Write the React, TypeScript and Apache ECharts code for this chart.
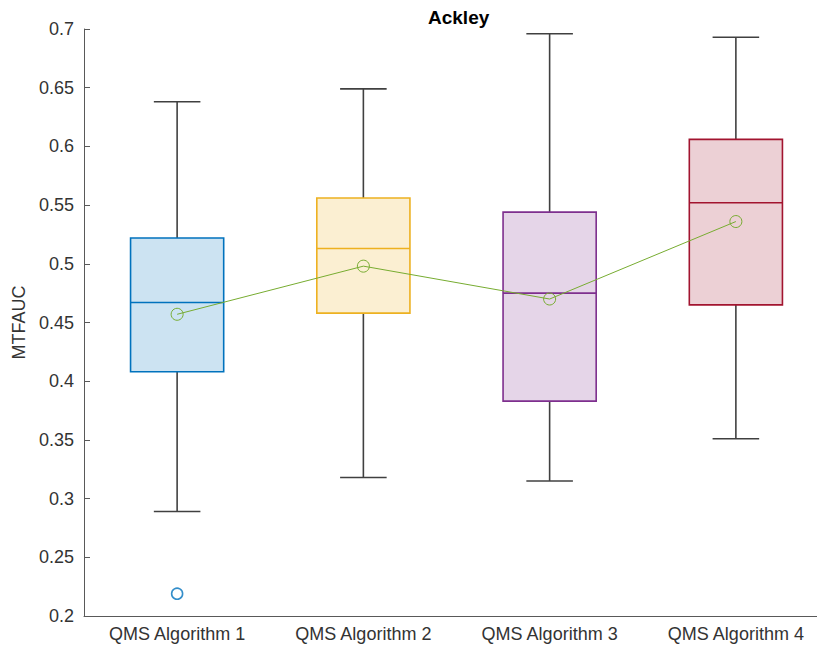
import React, { useEffect, useRef } from "react";
import * as echarts from "echarts";

// Benchmark: Ackley, metric MTFAUC
const categories = ["QMS Algorithm 1", "QMS Algorithm 2", "QMS Algorithm 3", "QMS Algorithm 4"];
// [lower whisker, Q1, median, Q3, upper whisker]
const boxStats = [
  [0.289, 0.408, 0.467, 0.522, 0.638],
  [0.318, 0.458, 0.513, 0.556, 0.649],
  [0.315, 0.383, 0.475, 0.544, 0.696],
  [0.351, 0.465, 0.552, 0.606, 0.693],
];
const means = [0.457, 0.498, 0.470, 0.536];
// [category index, value]
const outliers = [[0, 0.219]];
const yTicks = { min: 0.2, max: 0.7, interval: 0.05 };

const edgeColors = ["#0072BD", "#EDB120", "#7E2F8E", "#A2142F"];
const fillColors = [
  "rgba(0,114,189,0.2)",
  "rgba(237,177,32,0.2)",
  "rgba(126,47,142,0.2)",
  "rgba(162,20,47,0.2)",
];
const FONT = "'Liberation Sans', Arial, Helvetica, sans-serif";

export default function App() {
  const ref = useRef<HTMLDivElement | null>(null);

  useEffect(() => {
    document.body.style.margin = "0";
    document.body.style.overflow = "hidden";
    if (!ref.current) return;
    const chart = echarts.init(ref.current, undefined, { renderer: "svg" });

    const renderBox = (params: any, api: any) => {
      const idx = api.value(0);
      const lo = api.coord([idx, api.value(1)]);
      const q1 = api.coord([idx, api.value(2)]);
      const med = api.coord([idx, api.value(3)]);
      const q3 = api.coord([idx, api.value(4)]);
      const hi = api.coord([idx, api.value(5)]);
      const band = api.size([1, 0])[0];
      const boxW = band * 0.5;
      const capW = boxW * 0.5;
      const cx = lo[0];
      const whisker = { stroke: "#404040", lineWidth: 1.6 };
      const edge = edgeColors[idx];
      return {
        type: "group",
        children: [
          { type: "line", shape: { x1: cx, y1: q3[1], x2: cx, y2: hi[1] }, style: whisker },
          { type: "line", shape: { x1: cx, y1: q1[1], x2: cx, y2: lo[1] }, style: whisker },
          { type: "line", shape: { x1: cx - capW / 2, y1: hi[1], x2: cx + capW / 2, y2: hi[1] }, style: whisker },
          { type: "line", shape: { x1: cx - capW / 2, y1: lo[1], x2: cx + capW / 2, y2: lo[1] }, style: whisker },
          {
            type: "rect",
            shape: { x: cx - boxW / 2, y: q3[1], width: boxW, height: q1[1] - q3[1] },
            style: { fill: fillColors[idx], stroke: edge, lineWidth: 1.6 },
          },
          {
            type: "line",
            shape: { x1: cx - boxW / 2, y1: med[1], x2: cx + boxW / 2, y2: med[1] },
            style: { stroke: edge, lineWidth: 1.6 },
          },
        ],
      };
    };

    chart.setOption({
      animation: false,
      title: {
        text: "Ackley",
        left: 423,
        top: 3,
        textStyle: { fontFamily: FONT, fontSize: 19, fontWeight: "bold", color: "#000" },
      },
      // the axes run a little past the visible frame on the right
      grid: { left: 84, top: 29, right: 2, bottom: 37 },
      xAxis: {
        type: "category",
        data: categories,
        boundaryGap: true,
        axisLine: { lineStyle: { color: "#595959", width: 1 } },
        axisTick: { alignWithLabel: true, inside: true, length: 6, lineStyle: { color: "#595959" } },
        axisLabel: { fontFamily: FONT, fontSize: 18, color: "#333", margin: 9 },
        splitLine: { show: false },
      },
      yAxis: {
        type: "value",
        min: yTicks.min,
        max: yTicks.max,
        interval: yTicks.interval,
        name: "MTFAUC",
        nameLocation: "middle",
        nameGap: 56,
        nameTextStyle: { fontFamily: FONT, fontSize: 18, color: "#333" },
        axisLine: { show: true, lineStyle: { color: "#595959", width: 1 } },
        axisTick: { show: true, inside: true, length: 6, lineStyle: { color: "#595959" } },
        axisLabel: { fontFamily: FONT, fontSize: 18, color: "#333", margin: 10 },
        splitLine: { show: false },
      },
      series: [
        {
          type: "custom",
          renderItem: renderBox,
          encode: { x: 0, y: [1, 2, 3, 4, 5] },
          data: boxStats.map((s, i) => [i, ...s]),
          z: 2,
        },
        {
          type: "scatter",
          data: outliers,
          symbol: "circle",
          symbolSize: 11,
          itemStyle: { color: "rgba(0,0,0,0)", borderColor: "#0072BD", borderWidth: 1.6 },
          z: 3,
        },
        {
          type: "line",
          data: means,
          symbol: "circle",
          symbolSize: 12,
          showAllSymbol: true,
          lineStyle: { color: "#77AC30", width: 1 },
          itemStyle: { color: "rgba(0,0,0,0)", borderColor: "#77AC30", borderWidth: 1 },
          z: 4,
        },
      ],
    });

    return () => chart.dispose();
  }, []);

  return (
    <div style={{ width: 817, height: 653, overflow: "hidden" }}>
      <div ref={ref} style={{ width: 831, height: 653 }} />
    </div>
  );
}
